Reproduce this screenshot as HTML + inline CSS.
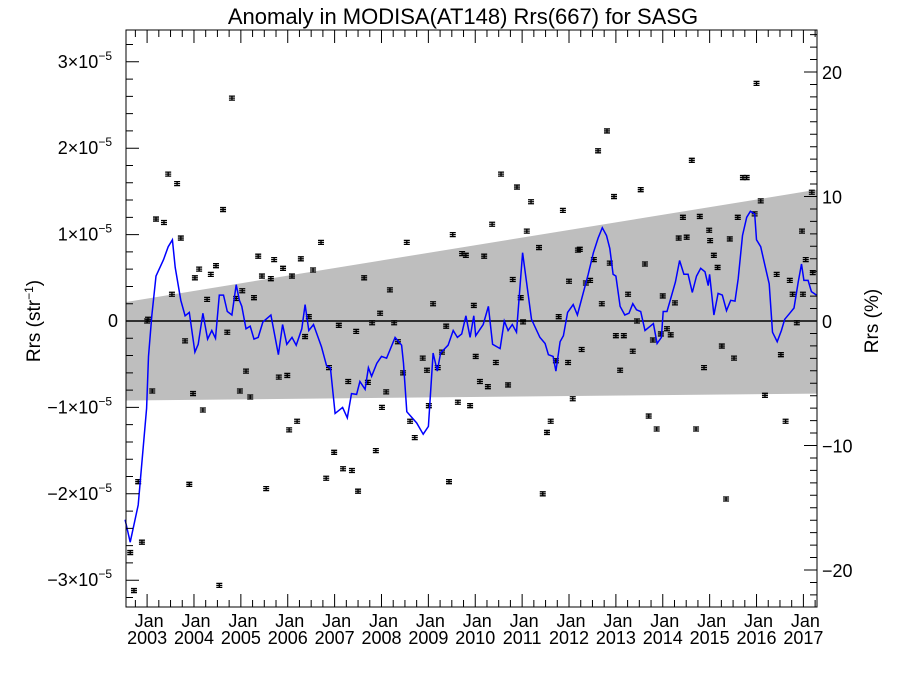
<!DOCTYPE html>
<html><head><meta charset="utf-8"><style>
html,body{margin:0;padding:0;background:#fff;}
svg{display:block;font-family:"Liberation Sans",Arial,sans-serif;}
</style></head><body>
<svg id="chart" width="900" height="675" viewBox="0 0 900 675">
<rect x="0" y="0" width="900" height="675" fill="#fff"/>
<text x="463" y="24" font-size="22" text-anchor="middle">Anomaly in MODISA(AT148) Rrs(667) for SASG</text>
<text transform="translate(40,321) rotate(-90)" font-size="19" text-anchor="middle">Rrs (str<tspan dy="-7" font-size="12">−1</tspan><tspan dy="7">)</tspan></text>
<text transform="translate(878,321) rotate(-90)" font-size="19" text-anchor="middle">Rrs (%)</text>
<g id="band"></g>
<g id="marks"></g>
<g id="axes"></g>
</svg>
<script>
// ---- data ----
const bandYears = [2002.55, 2017.29];
const bandUpper = [0.22, 1.52];
const bandLower = [-0.92, -0.84];
const lineYears = [2002.53,2002.64,2002.81,2002.99,2003.03,2003.10,2003.19,2003.35,2003.45,2003.54,2003.60,2003.72,2003.81,2003.90,2004.02,2004.09,2004.19,2004.29,2004.38,2004.46,2004.54,2004.63,2004.71,2004.81,2004.90,2004.97,2005.02,2005.11,2005.20,2005.28,2005.37,2005.47,2005.64,2005.80,2005.89,2005.98,2006.09,2006.18,2006.30,2006.37,2006.45,2006.55,2006.72,2006.83,2006.91,2007.01,2007.17,2007.27,2007.36,2007.47,2007.54,2007.65,2007.72,2007.79,2007.90,2008.00,2008.11,2008.29,2008.43,2008.47,2008.54,2008.75,2008.89,2009.00,2009.10,2009.19,2009.26,2009.42,2009.53,2009.62,2009.71,2009.80,2009.89,2009.97,2010.01,2010.17,2010.28,2010.37,2010.53,2010.62,2010.70,2010.79,2010.88,2011.01,2011.20,2011.38,2011.49,2011.56,2011.66,2011.72,2011.81,2011.88,2011.97,2012.09,2012.18,2012.30,2012.41,2012.52,2012.62,2012.71,2012.80,2012.87,2012.94,2013.00,2013.09,2013.19,2013.28,2013.36,2013.44,2013.53,2013.62,2013.80,2013.88,2013.97,2014.01,2014.09,2014.19,2014.27,2014.36,2014.45,2014.54,2014.63,2014.72,2014.81,2014.90,2014.97,2015.00,2015.09,2015.18,2015.27,2015.36,2015.45,2015.54,2015.61,2015.70,2015.79,2015.87,2015.96,2016.00,2016.09,2016.18,2016.27,2016.34,2016.44,2016.53,2016.60,2016.71,2016.80,2016.89,2016.96,2017.01,2017.10,2017.17,2017.28];
const lineVals = [-2.30,-2.56,-2.13,-1.01,-0.41,0.06,0.52,0.71,0.86,0.94,0.62,0.24,0.06,0.10,-0.36,-0.27,0.09,-0.21,-0.11,-0.20,0.30,0.30,0.11,0.07,0.42,0.24,0.17,-0.09,-0.06,-0.21,-0.19,-0.01,0.07,-0.39,-0.04,-0.27,-0.19,-0.28,-0.09,0.19,-0.11,-0.04,-0.30,-0.52,-0.54,-1.07,-1.00,-1.12,-0.84,-0.85,-0.70,-0.79,-0.54,-0.64,-0.49,-0.41,-0.43,-0.19,-0.28,-0.49,-1.05,-1.18,-1.31,-1.22,-0.37,-0.58,-0.37,-0.28,-0.11,-0.19,-0.15,0.06,-0.19,0.06,-0.17,-0.04,0.17,-0.27,-0.32,0.00,-0.11,-0.04,-0.13,0.79,0.02,-0.19,-0.26,-0.39,-0.41,-0.58,-0.24,-0.17,0.10,0.19,0.07,0.32,0.54,0.79,0.96,1.08,0.99,0.84,0.54,0.52,0.17,0.07,0.09,0.20,0.13,0.11,-0.11,-0.03,-0.26,-0.19,0.11,0.11,0.30,0.45,0.70,0.54,0.54,0.33,0.52,0.61,0.57,0.41,0.54,0.07,0.32,0.30,0.12,0.24,0.23,0.49,0.99,1.20,1.27,1.24,0.94,0.86,0.64,0.43,-0.13,-0.24,-0.11,0.02,0.09,0.15,0.45,0.66,0.47,0.47,0.34,0.30];
const pointYears = [2002.64,2002.72,2002.81,2002.89,2003.00,2003.02,2003.11,2003.19,2003.36,2003.45,2003.64,2003.72,2003.53,2003.81,2003.90,2004.02,2004.11,2003.98,2004.19,2004.28,2004.36,2004.47,2004.54,2004.62,2004.71,2004.81,2004.90,2004.98,2005.03,2005.20,2005.11,2005.28,2005.37,2005.45,2005.54,2005.64,2005.71,2005.81,2005.90,2005.99,2006.03,2006.20,2006.09,2006.28,2006.37,2006.45,2006.54,2006.71,2006.82,2006.88,2006.99,2007.09,2007.18,2007.29,2007.37,2007.50,2007.46,2007.63,2007.71,2007.80,2007.88,2007.97,2008.01,2008.10,2008.18,2008.27,2008.35,2008.46,2008.54,2008.61,2008.71,2008.88,2008.97,2009.01,2009.10,2009.20,2009.29,2009.38,2009.44,2009.52,2009.63,2009.72,2009.80,2009.89,2009.97,2010.01,2010.10,2010.19,2010.27,2010.36,2010.44,2010.55,2010.70,2010.80,2010.89,2010.97,2011.02,2011.10,2011.19,2011.36,2011.44,2011.53,2011.61,2011.72,2011.78,2011.87,2011.98,2012.00,2012.08,2012.19,2012.27,2012.36,2012.23,2012.45,2012.53,2012.62,2012.70,2012.81,2012.87,2012.96,2013.00,2013.09,2013.17,2013.26,2013.36,2013.45,2013.53,2013.62,2013.70,2013.79,2013.87,2013.96,2014.00,2014.09,2014.17,2014.26,2014.34,2014.43,2014.51,2014.62,2014.71,2014.79,2014.88,2014.99,2015.01,2015.09,2015.17,2015.26,2015.35,2015.43,2015.52,2015.60,2015.71,2015.79,2015.96,2016.00,2016.09,2016.18,2016.43,2016.52,2016.62,2016.71,2016.77,2016.86,2016.97,2016.99,2017.05,2017.18,2017.20];
const pointVals = [-2.68,-3.12,-1.86,-2.56,0.00,0.02,-0.81,1.18,1.14,1.70,1.59,0.96,0.31,-0.23,-1.89,0.50,0.60,-0.84,-1.03,0.25,0.54,0.64,-3.06,1.29,-0.13,2.58,0.26,-0.81,0.35,-0.88,-0.58,0.27,0.75,0.52,-1.94,0.49,0.71,-0.65,0.61,-0.63,-1.26,-1.16,0.52,0.72,-0.18,0.05,0.59,0.91,-1.82,-0.54,-1.52,-0.05,-1.71,-0.70,-1.73,-1.97,-0.12,0.50,-0.71,-0.02,-1.50,0.09,-1.00,-0.82,0.36,-0.02,-0.24,-0.60,0.91,-1.16,-1.35,-0.43,-0.57,-0.98,0.20,-0.54,-0.36,-0.06,-1.86,1.00,-0.94,0.78,0.76,-0.98,0.18,-0.41,-0.70,0.75,-0.76,1.12,-0.48,1.70,-0.74,0.48,1.55,0.27,-0.01,1.04,1.38,0.85,-2.00,-1.29,-1.16,-0.46,0.05,1.28,-0.48,0.46,-0.90,0.82,-0.33,0.44,0.83,0.47,0.71,1.97,0.20,2.20,0.67,1.44,-0.17,-0.57,-0.17,0.31,-0.35,0.00,1.52,0.66,-1.10,-0.22,-1.25,-0.15,0.29,-0.09,-0.16,0.21,0.96,1.20,0.97,1.86,-1.25,1.21,-0.54,1.05,0.93,0.76,0.62,-0.29,-2.06,0.95,-0.43,1.20,1.66,1.66,1.24,2.75,1.39,-0.86,0.54,-0.39,-1.16,0.47,0.31,-0.02,1.04,0.31,0.71,1.49,0.56,-0.74];
const yTickVals = [-3,-2,-1,0,1,2,3];
const yTickLabels = ["−3","−2","−1","0","1","2","3"];
const pctTickVals = [-20,-10,0,10,20];
const pctTickLabels = ["−20","−10","0","10","20"];
const yearLabels = ["2003","2004","2005","2006","2007","2008","2009","2010","2011","2012","2013","2014","2015","2016","2017"];

// ---- scales ----
const L=126,R=817,T=30,B=607;
const X0=2002.55, X1=2017.29;
const x = yr => L + (yr - X0) / (X1 - X0) * (R - L);
const y = v => 321 - v * 86.4;           // v in units of 1e-5
const yp = p => 321 - p * 12.45;         // percent axis
const NS='http://www.w3.org/2000/svg';
function mk(tag, attrs, parent){const e=document.createElementNS(NS,tag);for(const k in attrs)e.setAttribute(k,attrs[k]);parent.appendChild(e);return e;}

const band=document.getElementById('band');
const pts=[x(bandYears[0])+','+y(bandUpper[0]), x(bandYears[1])+','+y(bandUpper[1]), x(bandYears[1])+','+y(bandLower[1]), x(bandYears[0])+','+y(bandLower[0])].join(' ');
const poly=mk('polygon',{points:pts,fill:'#bebebe'},band);



const marks=document.getElementById('marks');
const zl=mk('line',{x1:L,x2:R,y1:y(0),y2:y(0),stroke:'#000','stroke-width':1.5},marks);



// error-bar points
pointYears.forEach((yr,i)=>{
  const cx=x(yr), cy=y(pointVals[i]);
  const g=mk('g',{stroke:'#000','stroke-width':1.3,fill:'none'},marks);
  
  
  mk('path',{d:`M${cx-3} ${cy-2}H${cx+3}M${cx-3} ${cy+2}H${cx+3}M${cx} ${cy-2}V${cy+2}M${cx-3} ${cy}H${cx+3}`},g);
});

// smoothed line
const d=lineYears.map((yr,i)=>(i?'L':'M')+x(yr).toFixed(1)+' '+y(lineVals[i]).toFixed(1)).join('');
const ln=mk('path',{d:d,stroke:'#0000ff','stroke-width':1.5,fill:'none'},marks);



// axes
const ax=document.getElementById('axes');
const frame=mk('rect',{x:L,y:T,width:R-L,height:B-T,fill:'none',stroke:'#000','stroke-width':1},ax);


let tp='';
// left ticks: minor every 0.2
for(let v=-3.2;v<=3.3;v+=0.2){const yy=y(v);if(yy<T||yy>B)continue;const maj=Math.abs(v-Math.round(v))<0.01;tp+=`M${L} ${yy}h${maj?13:7}`;}
// right ticks: minor every 1%
for(let p=-22;p<=23;p++){const yy=yp(p);if(yy<T||yy>B)continue;tp+=`M${R} ${yy}h${p%10===0?-13:-7}`;}
// x ticks quarterly
for(let q=2002.5;q<=2017.5;q+=0.25){const xx=x(q);if(xx<L||xx>R)continue;const maj=Math.abs(q-Math.round(q))<0.01;const len=maj?13:7;tp+=`M${xx} ${B}v${-len}M${xx} ${T}v${len}`;}
const ticks=mk('path',{d:tp,stroke:'#000','stroke-width':1,fill:'none'},ax);



yTickVals.forEach((v,i)=>{
  const t=mk('text',{x:v===0?118:112,y:y(v)+6,'font-size':18,'text-anchor':'end'},ax);
  
  
  if(v===0){t.textContent='0';}
  else{
    t.textContent=yTickLabels[i]+'×10';
    const s=document.createElementNS(NS,'tspan');s.setAttribute('dy','-8');s.setAttribute('font-size','12');s.textContent='−5';t.appendChild(s);
  }
});
pctTickVals.forEach((p,i)=>{
  const t=mk('text',{x:822,y:yp(p)+7,'font-size':18,'text-anchor':'start'},ax);
  
  
  t.textContent=pctTickLabels[i];
});
yearLabels.forEach((lab,i)=>{
  const xx=x(2003+i);
  const t1=mk('text',{x:xx+2,y:627,'font-size':18,'text-anchor':'middle'},ax);
  
  
  t1.textContent='Jan';
  const t2=mk('text',{x:xx,y:644,'font-size':18,'text-anchor':'middle'},ax);
  
  
  t2.textContent=lab;
});
</script>
</body></html>
